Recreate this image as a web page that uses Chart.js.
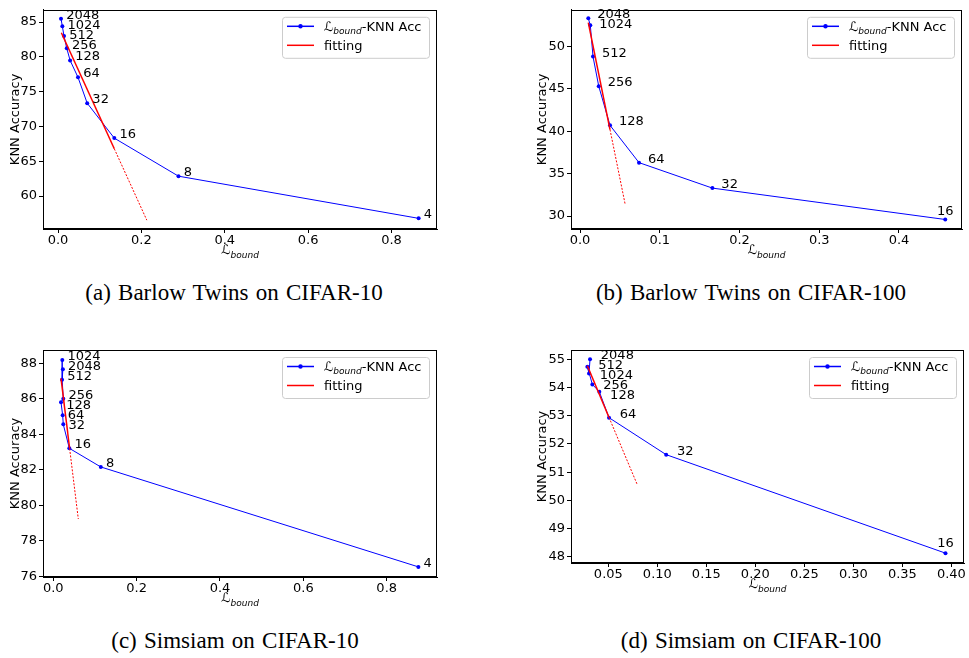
<!DOCTYPE html>
<html>
<head>
<meta charset="utf-8">
<script src="https://cdn.jsdelivr.net/npm/chart.js"></script>
<style>
body { margin: 0; background: #fff; width: 969px; height: 658px; position: relative; overflow: hidden; }
canvas { position: absolute; }
.cap { position: absolute; width: 440px; text-align: center; font-family: "Liberation Serif", "Times New Roman", serif; font-size: 23px; line-height: 23px; word-spacing: 1.5px; color: #000; white-space: nowrap; }
</style>
</head>
<body>
<canvas id="ca" width="470" height="265" style="left:0px;top:0px"></canvas>
<canvas id="cb" width="484" height="265" style="left:485px;top:0px"></canvas>
<canvas id="cc" width="470" height="280" style="left:0px;top:340px"></canvas>
<canvas id="cd" width="484" height="280" style="left:485px;top:340px"></canvas>
<div class="cap" style="left:14px;top:281px">(a) Barlow Twins on CIFAR-10</div>
<div class="cap" style="left:531px;top:281px">(b) Barlow Twins on CIFAR-100</div>
<div class="cap" style="left:15px;top:629px">(c) Simsiam on CIFAR-10</div>
<div class="cap" style="left:531px;top:629px">(d) Simsiam on CIFAR-100</div>
<script>
// (a) Barlow Twins, CIFAR-10
var dimsA = ['2048', '1024', '512', '256', '128', '64', '32', '16', '8', '4'];
var boundA = [0.0072, 0.0104, 0.0144, 0.021, 0.029, 0.048, 0.070, 0.135, 0.289, 0.865];
var accA = [85.5, 84.4, 83.0, 81.24, 79.5, 77.06, 73.35, 68.33, 62.86, 56.8];
var fitXA = [0.008, 0.135, 0.213];
var fitYA = [83.47, 66.8, 56.54];
var xTicksA = [0, 0.2, 0.4, 0.6, 0.8];
var yTicksA = [60, 65, 70, 75, 80, 85];

// (b) Barlow Twins, CIFAR-100
var dimsB = ['2048', '1024', '512', '256', '128', '64', '32', '16'];
var boundB = [0.0104, 0.0129, 0.0163, 0.0235, 0.0376, 0.074, 0.166, 0.458];
var accB = [53.3, 52.5, 48.8, 45.3, 40.7, 36.3, 33.3, 29.6];
var fitXB = [0.0104, 0.0376, 0.0565];
var fitYB = [52.8, 40.2, 31.45];
var xTicksB = [0, 0.1, 0.2, 0.3, 0.4];
var yTicksB = [30, 35, 40, 45, 50];

// (c) Simsiam, CIFAR-10
var dimsC = ['2048', '1024', '512', '256', '128', '64', '32', '16', '8', '4'];
var boundC = [0.023, 0.0216, 0.021, 0.024, 0.0185, 0.0225, 0.024, 0.0385, 0.114, 0.876];
var accC = [87.66, 88.19, 87.07, 86.01, 85.8, 85.07, 84.56, 83.21, 82.16, 76.53];
var fitXC = [0.0185, 0.0392, 0.060];
var fitYC = [87.15, 83.2, 79.23];
var xTicksC = [0, 0.2, 0.4, 0.6, 0.8];
var yTicksC = [76, 78, 80, 82, 84, 86, 88];

// (d) Simsiam, CIFAR-100
var dimsD = ['2048', '1024', '512', '256', '128', '64', '32', '16'];
var boundD = [0.0313, 0.0303, 0.0286, 0.0337, 0.0408, 0.0507, 0.109, 0.394];
var accD = [55.0, 54.5, 54.74, 54.11, 53.85, 52.93, 51.62, 48.13];
var fitXD = [0.0286, 0.0507, 0.0796];
var fitYD = [54.77, 52.94, 50.55];
var xTicksD = [0.05, 0.10, 0.15, 0.20, 0.25, 0.30, 0.35, 0.40];
var yTicksD = [48, 49, 50, 51, 52, 53, 54, 55];

var FONT = '"DejaVu Sans", sans-serif';

// draws L_bound with italic subscript, returns width
function mathL(ctx, x, y, drop, measureOnly) {
  ctx.font = '13px ' + FONT;
  var w1 = ctx.measureText('\u2112').width;
  ctx.font = 'italic 9px ' + FONT;
  var w2 = ctx.measureText('bound').width;
  if (!measureOnly) {
    ctx.font = '13px ' + FONT;
    ctx.fillText('\u2112', x, y);
    ctx.font = 'italic 9px ' + FONT;
    ctx.fillText('bound', x + w1, y + drop);
  }
  return w1 + w2;
}

var extras = {
  id: 'extras',
  afterDatasetsDraw: function(chart, args, o) {
    var ctx = chart.ctx;
    var xs = chart.scales.x, ys = chart.scales.y;
    var pts = chart.data.datasets[0].data;
    ctx.save();
    ctx.font = '13px ' + FONT;
    ctx.fillStyle = '#000';
    ctx.textBaseline = 'alphabetic';
    var items = pts.map(function(p, i) {
      var px = xs.getPixelForValue(p.x), py = ys.getPixelForValue(p.y);
      var w = ctx.measureText(o.names[i]).width;
      var x = xs.getPixelForValue(p.x + 0.01) + 1, y = py;
      if (i === pts.length - 1 && o.lastAbove) { x = px - w / 2; y = py - o.lastAbove; }
      return { i: i, x: x, y: y, w: w, py: py };
    });
    // push crowded labels down, like the reference
    var placed = [];
    items.slice().sort(function(p, q) { return p.py - q.py; }).forEach(function(it) {
      for (var pass = 0; pass < 20; pass++) {
        var moved = false;
        placed.forEach(function(q) {
          if (it.x < q.x + q.w && q.x < it.x + it.w && it.y < q.y + 9.9 && it.y > q.y - 9.9) {
            it.y = q.y + 10;
            moved = true;
          }
        });
        if (!moved) break;
      }
      placed.push(it);
      ctx.fillText(o.names[it.i], it.x, it.y);
    });
    ctx.restore();
  },
  afterDraw: function(chart) {
    var ctx = chart.ctx, a = chart.chartArea;
    ctx.save();
    // axes frame
    ctx.strokeStyle = '#000';
    ctx.lineWidth = 1;
    ctx.strokeRect(Math.round(a.left) + 0.5, Math.round(a.top) + 0.5, Math.round(a.right - a.left) - 1, Math.round(a.bottom - a.top) - 1);

    // x title
    ctx.fillStyle = '#000';
    ctx.textBaseline = 'alphabetic';
    var w = mathL(ctx, 0, 0, 0, true);
    mathL(ctx, (a.left + a.right) / 2 - w / 2, a.bottom + 24.5, 4.5);

    // legend
    var W = 147, H = 41;
    var L = a.right - 8 - W, T = a.top + 7;
    ctx.beginPath();
    ctx.roundRect(L + 0.5, T + 0.5, W, H, 3);
    ctx.fillStyle = 'rgba(255,255,255,0.8)';
    ctx.fill();
    ctx.strokeStyle = '#cccccc';
    ctx.stroke();

    ctx.lineWidth = 1.5;
    ctx.strokeStyle = '#0000ff';
    ctx.beginPath(); ctx.moveTo(L + 5, T + 9.5); ctx.lineTo(L + 32, T + 9.5); ctx.stroke();
    ctx.fillStyle = '#0000ff';
    ctx.beginPath(); ctx.arc(L + 18.5, T + 9.5, 2.2, 0, Math.PI * 2); ctx.fill();
    ctx.strokeStyle = '#ff0000';
    ctx.beginPath(); ctx.moveTo(L + 5, T + 28.5); ctx.lineTo(L + 32, T + 28.5); ctx.stroke();

    ctx.fillStyle = '#000';
    var lw = mathL(ctx, L + 42, T + 14, 3);
    ctx.font = '13px ' + FONT;
    ctx.fillText('-KNN Acc', L + 42 + lw, T + 14);
    ctx.fillText('fitting', L + 42, T + 33);
    ctx.restore();
  }
};

function makeChart(id, o) {
  var axisFont = { family: FONT, size: 13 };
  return new Chart(document.getElementById(id), {
    type: 'line',
    data: {
      datasets: [
        {
          label: '\u2112bound-KNN Acc',
          data: o.bound.map(function(b, i) { return { x: b, y: o.acc[i] }; }),
          borderColor: '#0000ff',
          backgroundColor: '#0000ff',
          borderWidth: 1,
          pointRadius: 2,
          pointBorderWidth: 0,
          pointHoverRadius: 2,
          tension: 0,
          order: 1
        },
        {
          label: 'fitting',
          data: o.fitX.map(function(b, i) { return { x: b, y: o.fitY[i] }; }),
          borderColor: '#ff0000',
          borderWidth: 1.5,
          pointRadius: 0,
          tension: 0,
          order: 0,
          segment: {
            borderDash: function(c) { return c.p0DataIndex === 1 ? [2, 1.5] : undefined; },
            borderWidth: function(c) { return c.p0DataIndex === 1 ? 1 : undefined; }
          }
        }
      ]
    },
    options: {
      responsive: false,
      animation: false,
      devicePixelRatio: 1,
      layout: { padding: o.pad },
      events: [],
      plugins: {
        legend: { display: false },
        tooltip: { enabled: false },
        extras: { names: o.names, lastAbove: o.lastAbove }
      },
      scales: {
        x: {
          type: 'linear',
          min: o.xr[0],
          max: o.xr[1],
          afterBuildTicks: function(s) { s.ticks = o.xTicks.map(function(v) { return { value: v }; }); },
          afterFit: function(s) { s.height = o.xh; },
          ticks: {
            font: axisFont, color: '#000', padding: 0, maxRotation: 0, autoSkip: false,
            callback: function(v) { return v.toFixed(o.xDec); }
          },
          grid: { drawOnChartArea: false, tickLength: 4, color: '#000' },
          border: { color: '#000' }
        },
        y: {
          type: 'linear',
          min: o.yr[0],
          max: o.yr[1],
          afterBuildTicks: function(s) { s.ticks = o.yTicks.map(function(v) { return { value: v }; }); },
          afterFit: function(s) { s.width = o.yw; },
          ticks: {
            font: axisFont, color: '#000', padding: 2, autoSkip: false,
            callback: function(v) { return v.toFixed(0); }
          },
          grid: { drawOnChartArea: false, tickLength: 4, color: '#000' },
          border: { color: '#000' },
          title: { display: true, text: 'KNN Accuracy', font: axisFont, color: '#000', padding: { top: 8, bottom: 0 } }
        }
      }
    },
    plugins: [extras]
  });
}

makeChart('ca', {
  names: dimsA, bound: boundA, acc: accA, fitX: fitXA, fitY: fitYA,
  xTicks: xTicksA, yTicks: yTicksA, xDec: 1,
  xr: [-0.036, 0.909], yr: [55.27, 86.77],
  pad: { left: 0, top: 3, right: 33, bottom: 0 }, yw: 43, xh: 36
});
makeChart('cb', {
  names: dimsB, bound: boundB, acc: accB, fitX: fitXB, fitY: fitYB,
  xTicks: xTicksB, yTicks: yTicksB, xDec: 1, lastAbove: 4.5,
  xr: [-0.0113, 0.479], yr: [28.48, 54.31],
  pad: { left: 42, top: 3, right: 7, bottom: 0 }, yw: 44, xh: 36
});
makeChart('cc', {
  names: dimsC, bound: boundC, acc: accC, fitX: fitXC, fitY: fitYC,
  xTicks: xTicksC, yTicks: yTicksC, xDec: 1,
  xr: [-0.0247, 0.9207], yr: [75.96, 88.75],
  pad: { left: 0, top: 10, right: 33, bottom: 0 }, yw: 43, xh: 43
});
makeChart('cd', {
  names: dimsD, bound: boundD, acc: accD, fitX: fitXD, fitY: fitYD,
  xTicks: xTicksD, yTicks: yTicksD, xDec: 2, lastAbove: 6,
  xr: [0.0119, 0.4129], yr: [47.78, 55.33],
  pad: { left: 42, top: 10, right: 5, bottom: 0 }, yw: 44, xh: 57
});
</script>
</body>
</html>
